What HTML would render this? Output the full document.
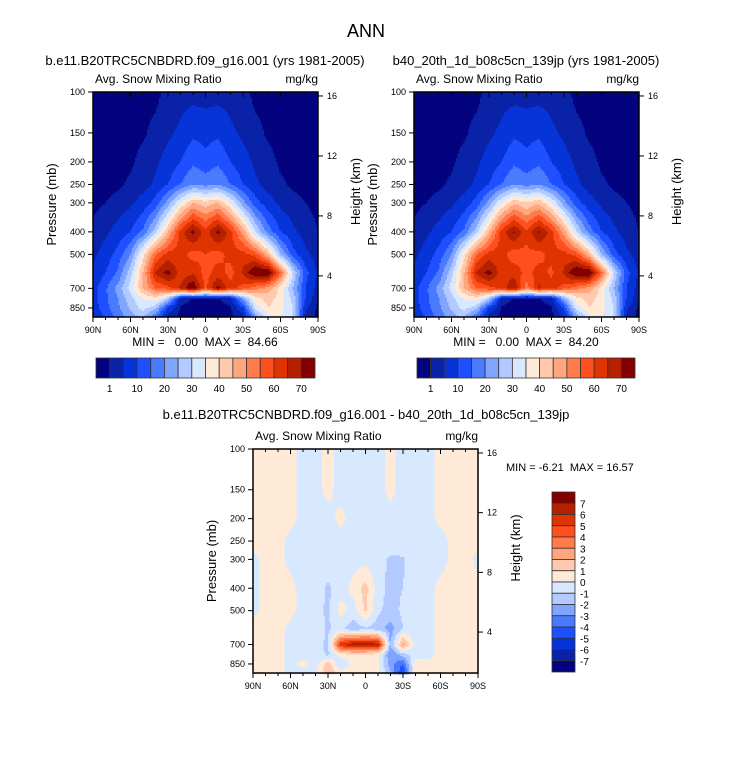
<!DOCTYPE html>
<html><head><meta charset="utf-8">
<style>
body{margin:0;background:#fff;}
svg{display:block;font-family:"Liberation Sans",Arial,sans-serif;}
.pre{white-space:pre;}
</style></head>
<body>
<svg id="fig" width="733" height="769" viewBox="0 0 733 769" xmlns="http://www.w3.org/2000/svg">
<rect width="733" height="769" fill="#fff"/>
<text x="366" y="37" font-size="18" text-anchor="middle">ANN</text>
</svg>
<script>
// ---- data ----
const lats = [90,80,70,60,50,40,30,20,10,0,-10,-20,-30,-40,-50,-60,-70,-80,-90];
const pressures = [100,150,200,250,300,400,500,600,700,775,850,925];
const levelsMain = [1,5,10,15,20,25,30,35,40,45,50,55,60,65,70];
const levelsDiff = [-7,-6,-5,-4,-3,-2,-1,0,1,2,3,4,5,6,7];
const labelsMain = ["1","10","20","30","40","50","60","70"];
const labelsDiff = ["7","6","5","4","3","2","1","0","-1","-2","-3","-4","-5","-6","-7"];
const pressureTicks = [100,150,200,250,300,400,500,700,850];
const heightTicks = [16,12,8,4];
const latTickLabels = ["90N","60N","30N","0","30S","60S","90S"];
const latTickValues = [90,60,30,0,-30,-60,-90];
const colors = ["#03037f","#0a22a8","#0634d8","#1f50ff","#4a7bff","#80a5ff","#b2caff","#d8e8ff","#ffead8","#ffc9ad","#ffa57f","#ff7b4a","#ff4f1f","#e03400","#b42000","#820000"];

const fieldA = [
[0,0,0,0,0,0,2,3,3,3,3,3,2,0,0,0,0,0,0],
[0,0,0,0,0.5,2,4,6,9,8,9,6,4,2,0.5,0,0,0,0],
[0,0,0,0.5,2,4,7,10,14,12,14,10,7,4,2,0.5,0,0,0],
[0,0,0.5,1.5,3,6,10,15,20,18,20,15,10,6,3,1.5,0.5,0,0],
[0,1,2,4,7,12,22,35,45,42,45,35,22,12,7,4,2,1,0],
[2,4,7,10,16,28,45,62,72,62,72,62,48,30,18,10,6,3,1],
[4,7,12,20,38,55,62,62,58,60,58,62,62,58,45,25,12,6,3],
[6,10,16,28,45,66,72,62,64,58,62,58,66,76,76,55,30,12,4],
[8,14,22,32,45,55,58,66,76,58,72,62,58,52,48,38,25,10,3],
[8,14,20,28,35,38,28,3,0.5,0.5,0.5,3,22,38,42,38,28,10,1],
[7,13,19,26,32,27,9,0.5,0,0,0,0.5,9,32,40,37,30,6,0],
[6,11,17,23,26,16,3,0,0,0,0,0,3,22,34,35,30,4,0]];
const fieldB = [
[0,0,0,0,0,0,2,3,3,3,3,3,2,0,0,0,0,0,0],
[0,0,0,0,0.5,2,4,6,9,8,9,6,4,2,0.5,0,0,0,0],
[0,0,0,0.5,2,4,7,10,14,12,14,10,7,4,2,0.5,0,0,0],
[0,0,0.5,1.5,3,6,10,15,20,18,20,15,10,6,3,1.5,0.5,0,0],
[0,1,2,4,7,12,22,35,44,41,44,35,22,12,7,4,2,1,0],
[2,4,7,10,16,28,45,62,71,61,71,62,48,30,18,10,6,3,1],
[4,7,12,20,38,55,62,62,57,59,58,62,62,58,45,25,12,6,3],
[6,10,16,28,45,66,72,62,63,58,62,59,66,76,76,55,30,12,4],
[8,14,22,32,45,55,58,62,70,52,66,62,58,52,48,38,25,10,3],
[8,14,20,28,35,38,28,3,0.5,0.5,0.5,3,23,38,42,38,28,10,1],
[7,13,19,26,32,27,9,0.5,0,0,0,0.5,11,32,40,37,30,6,0],
[6,11,17,23,26,16,3,0,0,0,0,0,5,22,34,35,30,4,0]];
const fieldD = [
[0.4,0.4,0.4,0.3,-0.4,-0.4,0.3,-0.4,-0.4,-0.4,-0.4,0.3,-0.4,-0.4,-0.3,0.3,0.4,0.4,0.4],
[0.4,0.4,0.4,0.3,-0.4,-0.4,0.3,-0.4,-0.4,-0.4,-0.4,0.3,-0.4,-0.4,-0.3,0.3,0.4,0.4,0.4],
[0.4,0.3,0.3,0.3,-0.4,-0.4,-0.4,0.3,-0.4,-0.4,-0.4,-0.4,-0.4,-0.4,-0.4,0.3,0.3,0.4,0.4],
[0.4,0.3,0.4,-0.3,-0.4,-0.4,-0.4,-0.4,-0.4,-0.4,-0.4,-0.4,-0.4,-0.4,-0.4,-0.4,0.3,0.3,0.4],
[-0.3,0.4,0.4,-0.3,-0.4,-0.4,-0.4,-0.4,-0.4,-0.4,-0.6,-1.2,-1.1,-0.5,-0.4,-0.4,0.3,0.4,-0.3],
[-0.3,0.4,0.4,0.3,-0.4,-0.4,-1.2,-0.5,0.3,1.4,-0.6,-1.3,-1.0,-0.4,-0.4,0.3,0.4,0.4,0.3],
[-0.3,0.4,0.4,0.3,-0.4,-0.6,-1.2,0.4,-0.5,1.2,-0.8,-1.4,-0.8,-0.4,-0.4,0.3,0.4,0.4,0.3],
[0.3,0.4,0.4,-0.3,-0.4,-0.6,-1.1,-0.8,-1.6,-1.2,-1.5,-2.5,-1.0,-0.4,-0.4,0.3,0.4,0.4,0.3],
[0.3,0.4,0.3,-0.3,-0.4,-0.6,-1.2,5.5,6.8,6.9,6.5,-2,2.5,-0.5,-0.4,0.3,0.4,0.4,0.3],
[0.3,0.4,0.3,-0.3,-0.4,-0.5,-1.2,0.4,0.6,0.5,0.4,-3,-1.5,-0.4,-0.4,0.3,0.4,0.4,0.3],
[0.3,0.4,0.3,-0.3,0.3,-0.4,1.5,-1,0.4,0.4,0.3,-2.5,-4,0.6,0.3,0.3,0.4,1.0,0.3],
[0.3,0.4,0.3,-0.3,-0.3,-0.4,2,0.4,0.4,0.4,0.3,-2,-5,0.6,0.3,0.3,0.4,0.4,0.3]];

const NS = "http://www.w3.org/2000/svg";
const svg = document.getElementById('fig');
function mk(tag, attrs, parent){const e=document.createElementNS(NS,tag);for(const k in attrs)e.setAttribute(k,attrs[k]);(parent||svg).appendChild(e);return e;}
function txt(s, attrs, name, parent){const e=mk('text',attrs,parent);e.textContent=s;


return e;}

const PTOP=100, PBOT=930;
function colorIdx(v, levels){let i=0;while(i<levels.length && v>=levels[i])i++;return i;}
function sample(field, lat, p){
  let fx=(90-lat)/10; let i0=Math.min(17,Math.floor(fx)); let tx=fx-i0;
  let lp=Math.log(Math.min(Math.max(p,100),925));
  let j0=0; while(j0<pressures.length-2 && Math.log(pressures[j0+1])<lp) j0++;
  let ty=(lp-Math.log(pressures[j0]))/(Math.log(pressures[j0+1])-Math.log(pressures[j0]));
  ty=Math.max(0,Math.min(1,ty));
  const a=field[j0][i0],b=field[j0][i0+1],c=field[j0+1][i0],d=field[j0+1][i0+1];
  return (a*(1-tx)+b*tx)*(1-ty)+(c*(1-tx)+d*tx)*ty;
}

function panel(px,py,pw,ph,field,levels,name){
  const g=mk('g',{});
  
  
  const xs=lat=>px+(90-lat)/180*pw;
  const ys=p=>py+(Math.log(p)-Math.log(PTOP))/(Math.log(PBOT)-Math.log(PTOP))*ph;
  const step=1.5;
  for(let y=0;y<ph;y+=step){
    const p=Math.exp(Math.log(PTOP)+(y+step/2)/ph*(Math.log(PBOT)-Math.log(PTOP)));
    let runStart=0, runC=-1;
    for(let x=0;x<=pw;x+=step){
      let c=-2;
      if(x<pw){const lat=90-(x+step/2)/pw*180;c=colorIdx(sample(field,lat,p),levels);}
      if(c!==runC){
        if(runC>=0){const r=mk('rect',{x:(px+runStart).toFixed(1),y:(py+y).toFixed(1),width:(Math.min(x,pw)-runStart+0.4).toFixed(1),height:step+0.4,fill:colors[runC]},g);
          
          }
        runStart=x;runC=c;
      }
    }
  }
  mk('rect',{x:px,y:py,width:pw,height:ph,fill:'none',stroke:'#000','stroke-width':1.5});
  pressureTicks.forEach(p=>{const y=ys(p);mk('line',{x1:px-5,x2:px,y1:y,y2:y,stroke:'#000'});
    txt(String(p),{x:px-8,y:y+3,'font-size':9,'text-anchor':'end'},'pressure-tick-label');});
  heightTicks.forEach(h=>{const p=1121*Math.exp(-h/6.73);const y=ys(p);mk('line',{x1:px+pw,x2:px+pw+5,y1:y,y2:y,stroke:'#000'});
    txt(String(h),{x:px+pw+9,y:y+3,'font-size':9},'height-tick-label');});
  latTickValues.forEach((l,i)=>{const x=xs(l);mk('line',{x1:x,x2:x,y1:py+ph,y2:py+ph+5,stroke:'#000'});mk('line',{x1:x,x2:x,y1:py,y2:py+5,stroke:'#000'});
    txt(latTickLabels[i],{x:x,y:py+ph+16,'font-size':9,'text-anchor':'middle'},'lat-tick-label');});
  for(let l=80;l>-90;l-=10){if(l%30===0)continue;const x=xs(l);mk('line',{x1:x,x2:x,y1:py+ph,y2:py+ph+3,stroke:'#000'});mk('line',{x1:x,x2:x,y1:py,y2:py+3,stroke:'#000'});}
  txt('Avg. Snow Mixing Ratio',{x:px+2,y:py-9,'font-size':12},'panel-variable-label');
  txt('mg/kg',{x:px+pw,y:py-9,'font-size':12,'text-anchor':'end'},'units-label');
  txt('Pressure (mb)',{x:0,y:0,'font-size':13,'text-anchor':'middle',transform:`translate(${px-37},${py+ph/2}) rotate(-90)`},'y-axis-title');
  txt('Height (km)',{x:0,y:0,'font-size':13,'text-anchor':'middle',transform:`translate(${px+pw+42},${py+ph/2-13}) rotate(-90)`},'y2-axis-title');
}

function hbar(x0,y0,w,h,name){
  const bw=w/16;
  colors.forEach((c,i)=>{const r=mk('rect',{x:x0+i*bw,y:y0,width:bw,height:h,fill:c,stroke:'#333','stroke-width':0.8});
    
    });
  labelsMain.forEach((s,k)=>{const b=k===0?1:2*k+1;txt(s,{x:x0+b*bw,y:y0+h+14,'font-size':10,'text-anchor':'middle'},name+'-label');});
}

panel(93,92,225,225,fieldA,levelsMain,'left-contour-panel');
panel(414,92,225,225,fieldB,levelsMain,'right-contour-panel');
panel(253,449,225,224,fieldD,levelsDiff,'diff-contour-panel');

txt('b.e11.B20TRC5CNBDRD.f09_g16.001 (yrs 1981-2005)',{x:205,y:65,'font-size':13,'text-anchor':'middle'},'left-subtitle');
txt('b40_20th_1d_b08c5cn_139jp (yrs 1981-2005)',{x:526,y:65,'font-size':13,'text-anchor':'middle'},'right-subtitle');
txt('MIN =   0.00  MAX =  84.66',{x:205,y:346,'font-size':12,'text-anchor':'middle','class':'pre'},'left-minmax');
txt('MIN =   0.00  MAX =  84.20',{x:526,y:346,'font-size':12,'text-anchor':'middle','class':'pre'},'right-minmax');
hbar(96,358,219,20,'left-colorbar');
hbar(417,358,218,20,'right-colorbar');
txt('b.e11.B20TRC5CNBDRD.f09_g16.001 - b40_20th_1d_b08c5cn_139jp',{x:366,y:419,'font-size':13,'text-anchor':'middle'},'diff-subtitle');
txt('MIN = -6.21  MAX = 16.57',{x:506,y:471,'font-size':11,'class':'pre'},'diff-minmax');
(function(){const x0=552,y0=492,w=23,h=180,bh=h/16;
  for(let i=0;i<16;i++){const r=mk('rect',{x:x0,y:y0+i*bh,width:w,height:bh,fill:colors[15-i],stroke:'#333','stroke-width':0.8});
    
    }
  labelsDiff.forEach((s,k)=>txt(s,{x:x0+w+5,y:y0+(k+1)*bh+4,'font-size':10},'diff-colorbar-label'));
})();
</script>
</body></html>
